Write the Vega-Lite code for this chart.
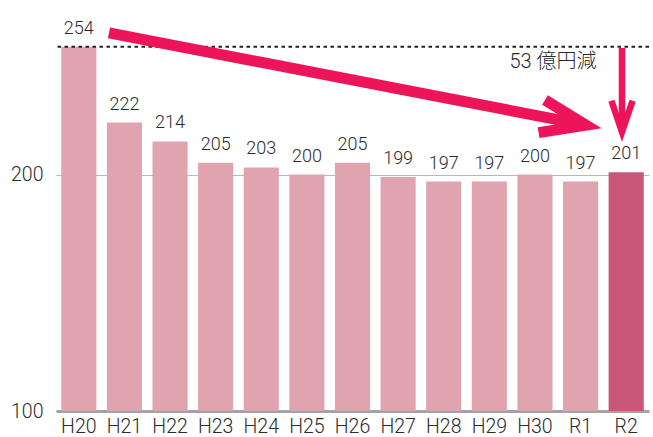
{
  "$schema": "https://vega.github.io/schema/vega-lite/v6.json",
  "autosize": "none",
  "width": 593,
  "height": 402,
  "padding": {"left": 56, "top": 9, "right": 4, "bottom": 26},
  "config": {"view": {"stroke": null}, "font": "Roboto, Noto Sans CJK JP"},
  "datasets": {
    "costs": [
      {"year": "H20", "value": 254},
      {"year": "H21", "value": 222},
      {"year": "H22", "value": 214},
      {"year": "H23", "value": 205},
      {"year": "H24", "value": 203},
      {"year": "H25", "value": 200},
      {"year": "H26", "value": 205},
      {"year": "H27", "value": 199},
      {"year": "H28", "value": 197},
      {"year": "H29", "value": 197},
      {"year": "H30", "value": 200},
      {"year": "R1", "value": 197},
      {"year": "R2", "value": 201}
    ],
    "reference": [{"value": 254}],
    "arrows": [
      {"arrow": "total", "seg": "shaft", "ord": 1, "x": 0.662, "y": 259.9},
      {"arrow": "total", "seg": "shaft", "ord": 2, "x": 11.119, "y": 220.9},
      {"arrow": "total", "seg": "head", "ord": 1, "x": 10.22, "y": 231.5},
      {"arrow": "total", "seg": "head", "ord": 2, "x": 11.119, "y": 220.9},
      {"arrow": "total", "seg": "head", "ord": 3, "x": 10.08, "y": 217.7},
      {"arrow": "r2", "seg": "shaft", "ord": 1, "x": 11.908, "y": 253.5},
      {"arrow": "r2", "seg": "shaft", "ord": 2, "x": 11.908, "y": 218.0},
      {"arrow": "r2", "seg": "head", "ord": 1, "x": 11.676, "y": 231.2},
      {"arrow": "r2", "seg": "head", "ord": 2, "x": 11.908, "y": 218.0},
      {"arrow": "r2", "seg": "head", "ord": 3, "x": 12.141, "y": 231.2}
    ],
    "note": [{"label": "53 億円減", "x": 10.396, "y": 247.6}]
  },
  "layer": [
    {
      "data": {"name": "costs"},
      "encoding": {
        "x": {
          "field": "year",
          "type": "nominal",
          "sort": null,
          "scale": {"paddingInner": 0.23, "paddingOuter": 0.115},
          "axis": {
            "title": null,
            "labelAngle": 0,
            "labelFontSize": 19.5,
            "labelFontWeight": 300,
            "labelColor": "#2b2b2b",
            "labelPadding": 6,
            "ticks": false,
            "domain": true,
            "domainColor": "#a3a3a6",
            "domainWidth": 3
          }
        },
        "y": {
          "field": "value",
          "type": "quantitative",
          "scale": {"domain": [100, 270], "nice": false, "zero": false},
          "axis": {
            "title": null,
            "values": [100, 200],
            "grid": true,
            "gridColor": "#b8b8b8",
            "gridWidth": 1,
            "domain": false,
            "ticks": false,
            "labelFontSize": 19.5,
            "labelFontWeight": 300,
            "labelColor": "#2b2b2b",
            "labelPadding": 13
          }
        }
      },
      "layer": [
        {
          "mark": {"type": "bar"},
          "encoding": {
            "y2": {"datum": 100},
            "color": {
              "condition": {"test": "datum.year === 'R2'", "value": "#C85678"},
              "value": "#E0A4B0"
            }
          }
        },
        {
          "mark": {"type": "text", "fontSize": 18, "fontWeight": 300, "color": "#2b2b2b", "baseline": "alphabetic", "dy": -13},
          "encoding": {"text": {"field": "value", "type": "quantitative"}}
        }
      ]
    },
    {
      "data": {"name": "reference"},
      "mark": {"type": "rule", "color": "#222222", "strokeWidth": 2, "strokeDash": [3.5, 3.5]},
      "encoding": {"y": {"field": "value", "type": "quantitative"}}
    },
    {
      "data": {"name": "note"},
      "mark": {"type": "text", "fontSize": 20, "fontWeight": 300, "color": "#2b2b2b", "align": "center", "baseline": "middle"},
      "encoding": {
        "x": {"field": "x", "type": "quantitative", "scale": {"domain": [-0.5, 12.5], "nice": false, "zero": false}, "axis": null},
        "y": {"field": "y", "type": "quantitative"},
        "text": {"field": "label"}
      }
    },
    {
      "data": {"name": "arrows"},
      "transform": [{"filter": "datum.arrow === 'total'"}],
      "mark": {"type": "line", "color": "#EE1459", "strokeWidth": 11, "strokeJoin": "miter", "strokeCap": "butt", "strokeMiterLimit": 10},
      "encoding": {
        "x": {"field": "x", "type": "quantitative", "scale": {"domain": [-0.5, 12.5], "nice": false, "zero": false}, "axis": null},
        "y": {"field": "y", "type": "quantitative"},
        "detail": {"field": "seg"},
        "order": {"field": "ord"}
      }
    },
    {
      "data": {"name": "arrows"},
      "transform": [{"filter": "datum.arrow === 'r2'"}],
      "mark": {"type": "line", "color": "#EE1459", "strokeWidth": 6.5, "strokeJoin": "miter", "strokeCap": "butt", "strokeMiterLimit": 10},
      "encoding": {
        "x": {"field": "x", "type": "quantitative", "scale": {"domain": [-0.5, 12.5], "nice": false, "zero": false}, "axis": null},
        "y": {"field": "y", "type": "quantitative"},
        "detail": {"field": "seg"},
        "order": {"field": "ord"}
      }
    }
  ],
  "resolve": {"scale": {"x": "independent"}}
}
